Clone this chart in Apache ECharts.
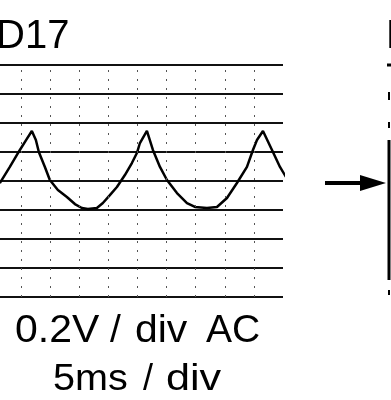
<!DOCTYPE html>
<html>
<head>
<meta charset="utf-8">
<script src="https://cdn.jsdelivr.net/npm/echarts@6/dist/echarts.min.js"></script>
<style>
html,body{margin:0;padding:0;background:#fff;}
#c{width:391px;height:400px;}
</style>
</head>
<body>
<div id="c"></div>
<script>
// time in ms (5 ms / div), voltage in V (0.2 V / div)
var timeMs = [1.37, 3.09, 4.81, 6.01, 6.87, 7.56, 8.07, 9.11, 9.96, 11.34, 12.89, 14.26, 15.46, 16.49, 18.04, 19.07, 20.27, 21.48, 22.85, 24.05, 24.91, 25.43, 26.63, 27.66, 28.87, 30.07, 31.79, 33.51, 34.88, 36.94, 38.66, 40.38, 42.09, 43.81, 44.84, 45.53, 46.56, 48.11, 49.48, 50.51];
var volts = [-0.014, 0.097, 0.214, 0.290, 0.345, 0.283, 0.200, 0.097, 0.007, -0.062, -0.110, -0.159, -0.186, -0.193, -0.186, -0.152, -0.097, -0.041, 0.041, 0.124, 0.193, 0.262, 0.345, 0.214, 0.097, 0.007, -0.083, -0.152, -0.179, -0.186, -0.179, -0.117, -0.014, 0.097, 0.214, 0.283, 0.345, 0.214, 0.097, 0.028];
var timeDivs = [5, 10, 15, 20, 25, 30, 35, 40, 45];
var titleText = 'D17';
var nextTitleText = 'D18';
var scaleLine1 = ['0.2V', '/', 'div', 'AC'];
var scaleLine2 = ['5ms', '/', 'div'];

var data = timeMs.map(function (t, i) { return [t, volts[i]]; });

var chart = echarts.init(document.getElementById('c'), null, {renderer: 'canvas'});
function word(txt, x, y, size, sx) {
  return {type: 'text', x: x, y: y, scaleX: sx || 1,
    style: {text: txt, x: 0, y: 0, font: size + 'px "Liberation Sans", Arial, sans-serif', fill: '#000', align: 'left', verticalAlign: 'middle'}};
}
chart.setOption({
  animation: false,
  backgroundColor: '#fff',
  grid: {left: 0, right: 108, top: 65, bottom: 103, containLabel: false},
  xAxis: {
    type: 'value', min: 1.4, max: 50,
    axisLine: {show: false}, axisTick: {show: false}, axisLabel: {show: false},
    splitLine: {show: false}
  },
  yAxis: {
    type: 'value', min: -0.8, max: 0.8, interval: 0.2,
    axisLine: {show: false}, axisTick: {show: false}, axisLabel: {show: false},
    splitLine: {show: true, lineStyle: {color: '#111', width: 2}}
  },
  series: [{
    type: 'line', data: data, showSymbol: false, clip: false,
    lineStyle: {color: '#000', width: 2.5},
    markLine: {
      silent: true, symbol: 'none', animation: false,
      label: {show: false},
      lineStyle: {color: '#555', width: 1, type: [2, 7]},
      data: timeDivs.map(function (t) { return {xAxis: t}; })
    }
  }],
  graphic: [
    word(titleText, -4, 37, 40, 1),
    word(nextTitleText, 386, 37, 40, 1),
    word(scaleLine1[0], 15, 331, 39, 1.05),
    word(scaleLine1[1], 110, 331, 39, 1),
    word(scaleLine1[2], 135, 331, 39, 1.05),
    word(scaleLine1[3], 206, 331, 39, 1),
    word(scaleLine2[0], 53, 380, 36, 1.1),
    word(scaleLine2[1], 143, 380, 36, 1),
    word(scaleLine2[2], 166, 380, 36, 1.2),
    {type: 'line', shape: {x1: 325, y1: 183, x2: 370, y2: 183}, style: {stroke: '#000', lineWidth: 4}},
    {type: 'polygon', shape: {points: [[360, 175], [386, 183], [360, 191]]}, style: {fill: '#000'}},
    {type: 'line', shape: {x1: 389, y1: 140, x2: 389, y2: 280}, style: {stroke: '#000', lineWidth: 3}},
    {type: 'line', shape: {x1: 387, y1: 65, x2: 391, y2: 65}, style: {stroke: '#000', lineWidth: 3}},
    {type: 'line', shape: {x1: 389, y1: 92, x2: 389, y2: 100}, style: {stroke: '#000', lineWidth: 2}},
    {type: 'line', shape: {x1: 389, y1: 122, x2: 389, y2: 128}, style: {stroke: '#000', lineWidth: 2}},
    {type: 'line', shape: {x1: 389, y1: 290, x2: 389, y2: 295}, style: {stroke: '#000', lineWidth: 2}}
  ]
});
</script>
</body>
</html>
